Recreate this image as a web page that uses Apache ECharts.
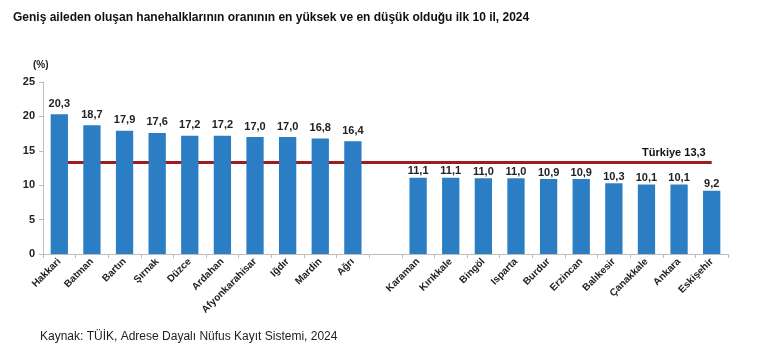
<!DOCTYPE html>
<html><head><meta charset="utf-8">
<script src="https://cdn.jsdelivr.net/npm/echarts@6/dist/echarts.min.js"></script>
<style>html,body{margin:0;padding:0;background:#fff}#c{width:769px;height:354px}</style>
</head><body><div id="c"></div>
<script>
const categories = ['Hakkari','Batman','Bartın','Şırnak','Düzce','Ardahan','Afyonkarahisar','Iğdır','Mardin','Ağrı','','Karaman','Kırıkkale','Bingöl','Isparta','Burdur','Erzincan','Balıkesir','Çanakkale','Ankara','Eskişehir'];
const values = [20.3,18.7,17.9,17.6,17.2,17.2,17.0,17.0,16.8,16.4,null,11.1,11.1,11.0,11.0,10.9,10.9,10.3,10.1,10.1,9.2];
const turkiyeValue = 13.3;
const yTicks = [0,5,10,15,20,25];
const titleText = 'Geniş aileden oluşan hanehalklarının oranının en yüksek ve en düşük olduğu ilk 10 il, 2024';
const sourceText = 'Kaynak: TÜİK, Adrese Dayalı Nüfus Kayıt Sistemi, 2024';

const fmt = v => v.toFixed(1).replace('.', ',');
const chart = echarts.init(document.getElementById('c'));
chart.setOption({
  animation: false,
  textStyle: {fontFamily: 'Liberation Sans, Arial, sans-serif'},
  title: [
    {text: titleText, left: 13, top: 12, padding: 0, textStyle: {fontSize: 12, fontWeight: 'bold', color: '#111'}},
    {text: sourceText, left: 40, top: 331, padding: 0, textStyle: {fontSize: 12, fontWeight: 'normal', color: '#222'}},
    {text: '(%)', left: 33, top: 60, padding: 0, textStyle: {fontSize: 10, fontWeight: 'bold', color: '#222'}}
  ],
  grid: {left: 43, right: 41, top: 82, bottom: 100, containLabel: false},
  xAxis: {
    type: 'category', data: categories,
    axisLine: {lineStyle: {color: '#bdbdbd'}},
    axisTick: {show: true, alignWithLabel: false, length: 4, lineStyle: {color: '#bdbdbd'}},
    axisLabel: {interval: 0, rotate: 45, fontSize: 10, fontWeight: 'bold', color: '#222', margin: 6}
  },
  yAxis: {
    type: 'value', min: yTicks[0], max: yTicks[yTicks.length-1], interval: 5,
    splitLine: {show: false},
    axisLine: {show: true, lineStyle: {color: '#bdbdbd'}},
    axisTick: {show: true, length: 4, lineStyle: {color: '#bdbdbd'}},
    axisLabel: {fontSize: 11, fontWeight: 'bold', color: '#222', margin: 8}
  },
  series: [{
    type: 'bar', barWidth: '53%',
    data: values.map((v, i) => ({value: v, label: {distance: (v != null && v < 12) ? 1 : 5}})),
    itemStyle: {color: '#2b7ec4'},
    label: {show: true, position: 'top', fontSize: 11, fontWeight: 'bold', color: '#222',
      formatter: p => p.value == null ? '' : fmt(p.value)},
    markLine: {
      symbol: 'none', silent: true, z: 1,
      lineStyle: {color: '#9e1b20', width: 3, type: 'solid'},
      label: {show: true, position: 'insideEndTop', formatter: 'Türkiye ' + fmt(turkiyeValue),
        fontSize: 11, fontWeight: 'bold', color: '#111', distance: [6, 4]},
      data: [[{coord: [0, turkiyeValue]}, {coord: [categories.length - 1, turkiyeValue]}]]
    }
  }]
});
</script></body></html>
